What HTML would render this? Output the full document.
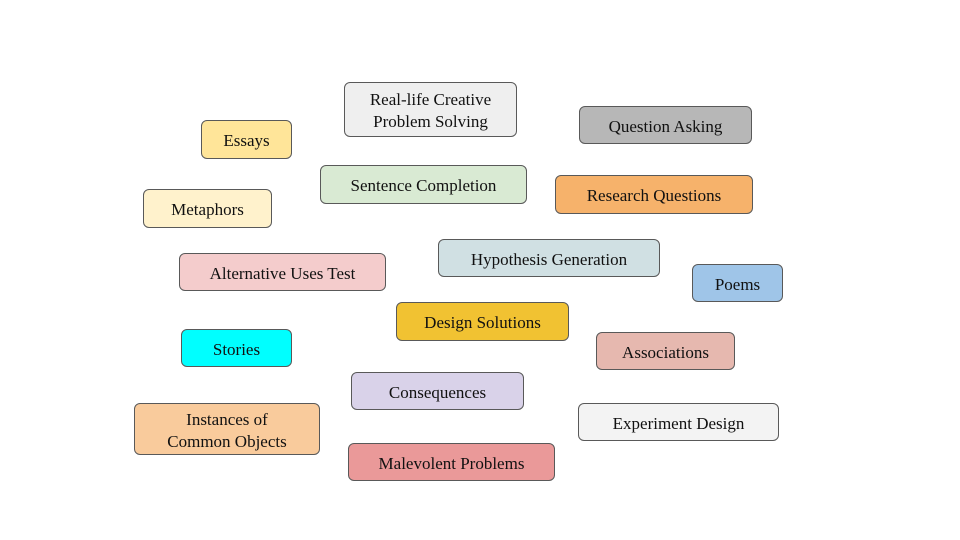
<!DOCTYPE html>
<html><head><meta charset="utf-8"><style>
body{margin:0;width:960px;height:540px;background:#fff;position:relative;overflow:hidden;font-family:"Liberation Serif",serif;}
.b{position:absolute;box-sizing:border-box;border:1px solid #595959;border-radius:6px;display:flex;align-items:center;justify-content:center;text-align:center;font-size:17px;line-height:22px;color:#111;padding-top:3px;}
</style></head><body>
<div class="b" style="left:344px;top:82px;width:173px;height:55px;background:#efefef">Real-life Creative<br>Problem Solving</div>
<div class="b" style="left:201px;top:120px;width:91px;height:39px;background:#ffe599">Essays</div>
<div class="b" style="left:579px;top:106px;width:173px;height:38px;background:#b7b7b7">Question Asking</div>
<div class="b" style="left:320px;top:165px;width:207px;height:39px;background:#d9ead3">Sentence Completion</div>
<div class="b" style="left:555px;top:175px;width:198px;height:39px;background:#f6b26b">Research Questions</div>
<div class="b" style="left:143px;top:189px;width:129px;height:39px;background:#fff2cc">Metaphors</div>
<div class="b" style="left:438px;top:239px;width:222px;height:38px;background:#d0e0e3">Hypothesis Generation</div>
<div class="b" style="left:179px;top:253px;width:207px;height:38px;background:#f4cccc">Alternative Uses Test</div>
<div class="b" style="left:692px;top:264px;width:91px;height:38px;background:#9fc5e8">Poems</div>
<div class="b" style="left:396px;top:302px;width:173px;height:39px;background:#f1c232">Design Solutions</div>
<div class="b" style="left:181px;top:329px;width:111px;height:38px;background:#00ffff">Stories</div>
<div class="b" style="left:596px;top:332px;width:139px;height:38px;background:#e6b8af">Associations</div>
<div class="b" style="left:351px;top:372px;width:173px;height:38px;background:#d9d2e9">Consequences</div>
<div class="b" style="left:134px;top:403px;width:186px;height:52px;background:#f9cb9c">Instances of<br>Common Objects</div>
<div class="b" style="left:578px;top:403px;width:201px;height:38px;background:#f3f3f3">Experiment Design</div>
<div class="b" style="left:348px;top:443px;width:207px;height:38px;background:#ea9999">Malevolent Problems</div>
</body></html>
